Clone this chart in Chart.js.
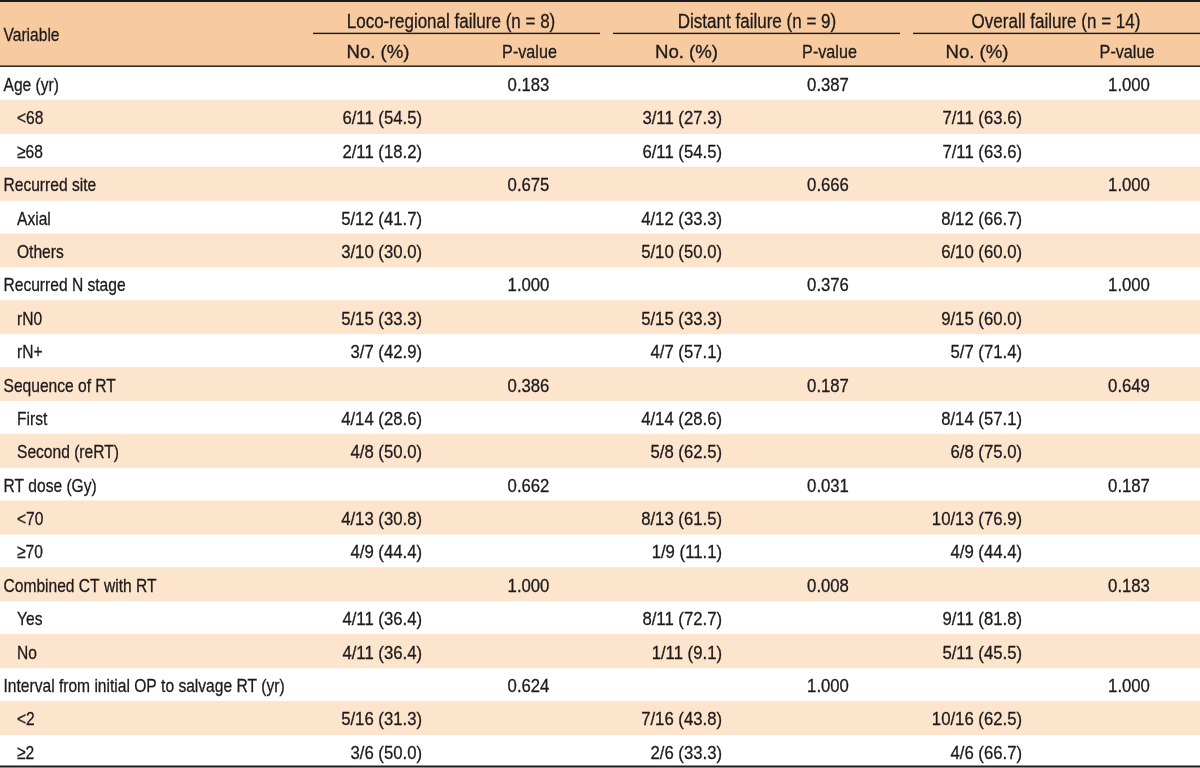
<!DOCTYPE html>
<html>
<head>
<meta charset="utf-8">
<title>Failure by clinical variable</title>
<script src="https://cdn.jsdelivr.net/npm/chart.js@4.4.1/dist/chart.umd.min.js"></script>
<style>
  html, body { margin: 0; padding: 0; background: #ffffff; }
  #wrap { position: relative; width: 1200px; height: 768px; }
</style>
</head>
<body>
<div id="wrap"><canvas id="failureTable"></canvas></div>
<script>
// Títulos de la tabla
const firstColTitle = 'Variable';
const groupTitles = ['Loco-regional failure (n = 8)', 'Distant failure (n = 9)', 'Overall failure (n = 14)'];
const subTitles = ['No. (%)', 'P-value'];

// Filas: variable (nivel 0) y sus categorías (nivel 1)
const rowLabels = [
  'Age (yr)', '<68', '≥68',
  'Recurred site', 'Axial', 'Others',
  'Recurred N stage', 'rN0', 'rN+',
  'Sequence of RT', 'First', 'Second (reRT)',
  'RT dose (Gy)', '<70', '≥70',
  'Combined CT with RT', 'Yes', 'No',
  'Interval from initial OP to salvage RT (yr)', '<2', '≥2'
];
const rowLevels = [0, 1, 1, 0, 1, 1, 0, 1, 1, 0, 1, 1, 0, 1, 1, 0, 1, 1, 0, 1, 1];

// Fallo loco-regional
const locoCounts = ['', '6/11 (54.5)', '2/11 (18.2)', '', '5/12 (41.7)', '3/10 (30.0)', '', '5/15 (33.3)', '3/7 (42.9)',
  '', '4/14 (28.6)', '4/8 (50.0)', '', '4/13 (30.8)', '4/9 (44.4)', '', '4/11 (36.4)', '4/11 (36.4)', '', '5/16 (31.3)', '3/6 (50.0)'];
const locoPValues = ['0.183', '', '', '0.675', '', '', '1.000', '', '', '0.386', '', '', '0.662', '', '', '1.000', '', '', '0.624', '', ''];

// Fallo a distancia
const distantCounts = ['', '3/11 (27.3)', '6/11 (54.5)', '', '4/12 (33.3)', '5/10 (50.0)', '', '5/15 (33.3)', '4/7 (57.1)',
  '', '4/14 (28.6)', '5/8 (62.5)', '', '8/13 (61.5)', '1/9 (11.1)', '', '8/11 (72.7)', '1/11 (9.1)', '', '7/16 (43.8)', '2/6 (33.3)'];
const distantPValues = ['0.387', '', '', '0.666', '', '', '0.376', '', '', '0.187', '', '', '0.031', '', '', '0.008', '', '', '1.000', '', ''];

// Fallo global
const overallCounts = ['', '7/11 (63.6)', '7/11 (63.6)', '', '8/12 (66.7)', '6/10 (60.0)', '', '9/15 (60.0)', '5/7 (71.4)',
  '', '8/14 (57.1)', '6/8 (75.0)', '', '10/13 (76.9)', '4/9 (44.4)', '', '9/11 (81.8)', '5/11 (45.5)', '', '10/16 (62.5)', '4/6 (66.7)'];
const overallPValues = ['1.000', '', '', '1.000', '', '', '1.000', '', '', '0.649', '', '', '0.187', '', '', '0.183', '', '', '1.000', '', ''];

// Espera a que el DOM esté listo
document.addEventListener('DOMContentLoaded', function () {

  const X_MAX = 1200; // ancho lógico de la tabla (unidades del eje x)
  const HEADER_SLOTS = 2; // dos filas de encabezado
  const textColor = '#1c1a1b';
  const bodyFont = '19px "Liberation Sans", Arial, sans-serif';
  const titleFont = '20.5px "Liberation Sans", Arial, sans-serif';

  // Compresión horizontal para imitar una fuente condensada
  const LABEL_NARROW = 0.82;
  const NUMBER_NARROW = 0.88;
  const TITLE_NARROW = 0.83;
  const SUB_NARROW = [0.98, 0.85];

  // Posiciones de columnas en unidades del eje x
  const labelX = 3.5;
  const indentX = 17;
  const groupCenters = [451, 757, 1056];
  const groupRules = [[313, 600], [613, 900], [913, 1200]];
  const countHeadCenters = [378, 686.5, 977];
  const pHeadCenters = [529.5, 829.5, 1127];
  const countRights = [422, 722, 1022];
  const pCenters = [528.5, 828, 1129];

  const countCols = [locoCounts, distantCounts, overallCounts];
  const pCols = [locoPValues, distantPValues, overallPValues];

  // Categorías del eje y: dos de encabezado + filas de datos
  const yLabels = ['head-1', 'head-2'].concat(rowLabels);

  // Bandas de color (barras flotantes a todo el ancho)
  const headerBand = yLabels.map((_, i) => (i < HEADER_SLOTS ? [0, X_MAX] : null));
  const stripeBand = yLabels.map((_, i) => (i >= HEADER_SLOTS && (i - HEADER_SLOTS) % 2 === 1 ? [0, X_MAX] : null));

  // Escribe un texto comprimido horizontalmente (con un trazo fino para darle peso)
  function narrowText(ctx, text, x, y, align, sx) {
    if (!text) return;
    ctx.save();
    ctx.translate(x, y);
    ctx.scale(sx, 1);
    ctx.textAlign = align;
    ctx.fillText(text, 0, 0);
    ctx.strokeText(text, 0, 0);
    ctx.restore();
  }

  // Plugin que escribe los textos y líneas usando las escalas
  const tableText = {
    id: 'tableText',
    afterDatasetsDraw(chart) {
      const { ctx, scales: { x, y }, chartArea } = chart;
      const px = (v) => x.getPixelForValue(v);
      const rowY = (i) => y.getPixelForValue(i);

      ctx.save();
      ctx.fillStyle = textColor;
      ctx.strokeStyle = textColor;
      ctx.lineWidth = 0.3;
      ctx.textBaseline = 'alphabetic';

      // Líneas superior, bajo encabezado e inferior
      ctx.fillRect(chartArea.left, chartArea.top, chartArea.width, 2);
      ctx.fillRect(chartArea.left, y.getPixelForValue(HEADER_SLOTS - 0.5) - 1.3, chartArea.width, 1.4);
      ctx.fillRect(chartArea.left, chartArea.bottom - 2.5, chartArea.width, 2);

      // Subrayado de cada grupo
      const ruleY = y.getPixelForValue(0.5);
      groupRules.forEach(([a, b]) => {
        ctx.fillRect(px(a), ruleY - 0.7, px(b) - px(a), 1.4);
      });

      // Encabezados
      ctx.font = bodyFont;
      narrowText(ctx, firstColTitle, px(labelX), ruleY + 7.5, 'left', LABEL_NARROW);

      ctx.font = titleFont;
      groupTitles.forEach((t, g) => narrowText(ctx, t, px(groupCenters[g]), rowY(0) + 11.5, 'center', TITLE_NARROW));

      ctx.font = bodyFont;
      groupTitles.forEach((_, g) => {
        narrowText(ctx, subTitles[0], px(countHeadCenters[g]), rowY(1) + 8, 'center', SUB_NARROW[0]);
        narrowText(ctx, subTitles[1], px(pHeadCenters[g]), rowY(1) + 8, 'center', SUB_NARROW[1]);
      });

      // Filas de datos
      rowLabels.forEach((label, r) => {
        const yy = rowY(r + HEADER_SLOTS) + 7.5;
        narrowText(ctx, label, px(rowLevels[r] ? indentX : labelX), yy, 'left', LABEL_NARROW);
        for (let g = 0; g < 3; g++) {
          narrowText(ctx, countCols[g][r], px(countRights[g]), yy, 'right', NUMBER_NARROW);
          narrowText(ctx, pCols[g][r], px(pCenters[g]), yy, 'center', NUMBER_NARROW);
        }
      });

      ctx.restore();
    }
  };

  const ctx = document.getElementById('failureTable').getContext('2d');

  new Chart(ctx, {
    type: 'bar',
    data: {
      labels: yLabels,
      datasets: [
        { label: 'header', data: headerBand, backgroundColor: '#f8caa0' },
        { label: 'stripe', data: stripeBand, backgroundColor: '#fde4cd' }
      ]
    },
    options: {
      indexAxis: 'y',
      responsive: true,
      maintainAspectRatio: false,
      animation: false,
      layout: { padding: 0 },
      datasets: {
        bar: { barPercentage: 1, categoryPercentage: 1, grouped: false, borderWidth: 0 }
      },
      plugins: {
        legend: { display: false },
        tooltip: { enabled: false }
      },
      scales: {
        x: { type: 'linear', min: 0, max: X_MAX, display: false },
        y: { type: 'category', display: false, offset: true }
      }
    },
    plugins: [tableText]
  });

});
</script>
</body>
</html>
